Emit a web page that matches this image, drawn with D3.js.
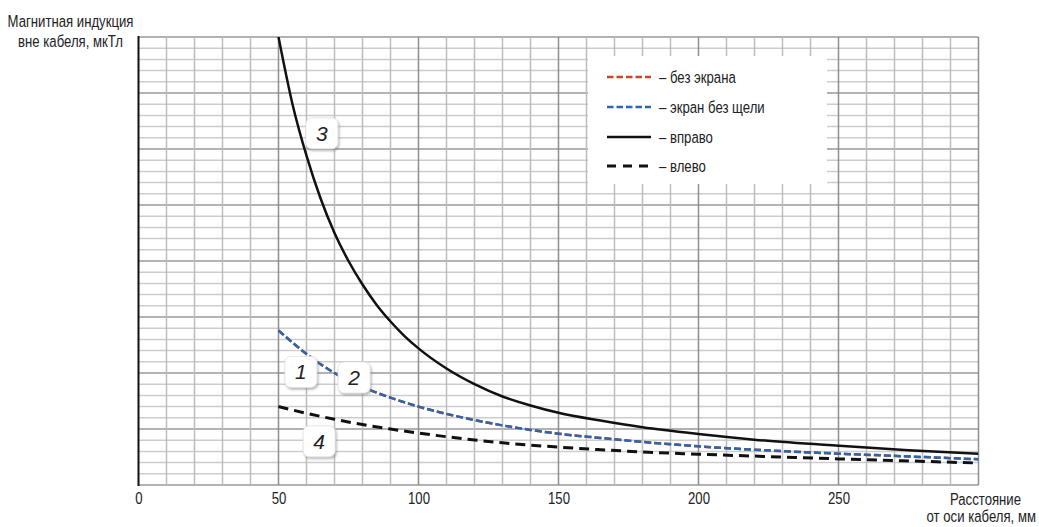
<!DOCTYPE html>
<html><head><meta charset="utf-8">
<script src="https://cdn.jsdelivr.net/npm/d3@7"></script>
<style>
body{margin:0;background:#fff}
svg{display:block}
text{font-family:"Liberation Sans",Arial,sans-serif;fill:#222}
</style>
</head><body>
<svg id="c" width="1039" height="527"></svg>
<script>
// ---- data ----
const xTickValues = [0, 50, 100, 150, 200, 250];
const xTickLabels = ["0", "50", "100", "150", "200", "250"];
const yTitle = ["Магнитная индукция", "вне кабеля, мкТл"];
const xTitle = ["Расстояние", "от оси кабеля, мм"];

// 1 – без экрана, 2 – экран без щели (curves coincide)
const distNoScreen = [50,60,70,80,90,100,110,120,130,140,150,165,180,200,220,250,275,300];
const valNoScreen  = [13.8,11.7,10.0,8.75,7.8,7.0,6.35,5.8,5.32,4.92,4.58,4.2,3.85,3.45,3.15,2.8,2.55,2.3];
const distScreen   = [50,60,70,80,90,100,110,120,130,140,150,165,180,200,220,250,275,300];
const valScreen    = [13.8,11.7,10.0,8.75,7.8,7.0,6.35,5.8,5.32,4.92,4.58,4.2,3.85,3.45,3.15,2.8,2.55,2.3];
// 3 – вправо
const distRight = [50,55,60,65,70,75,80,85,90,95,100,110,120,130,140,150,165,180,200,220,250,275,300];
const valRight  = [40,34.0,29.4,25.6,22.5,20.0,17.9,16.1,14.6,13.3,12.2,10.4,9.0,7.9,7.1,6.45,5.75,5.15,4.55,4.05,3.5,3.1,2.8];
// 4 – влево
const distLeft = [50,60,70,80,90,100,110,120,130,140,150,165,180,200,220,250,275,300];
const valLeft  = [7.0,6.4,5.87,5.4,5.0,4.64,4.31,4.02,3.77,3.56,3.38,3.15,2.95,2.75,2.58,2.33,2.15,1.96];

const legendLabels = ["– без экрана", "– экран без щели", "– вправо", "– влево"];
const curveLabels = ["1", "2", "3", "4"];
const curveLabelX = [58, 77, 65.5, 64.5];
const curveLabelY = [10.1, 9.6, 31.4, 3.9];

// ---- helpers ----
const K = 0.775;   // horizontal condensing to mimic a narrow typeface
function narrowText(parent, px, py, str, anchor) {
  return parent.append("text")
    .attr("transform", `translate(${px},${py}) scale(${K},1)`)
    .attr("text-anchor", anchor)
    .style("font-size", "17px")
    .text(str);
}

// ---- layout ----
const svg = d3.select("#c");
const x = d3.scaleLinear().domain([0, 300]).range([138.5, 978.5]);
const y = d3.scaleLinear().domain([0, 40]).range([485, 37]);

// grid
const grid = svg.append("g");
grid.selectAll("line.h").data(d3.range(0, 41)).join("line")
  .attr("x1", x(0)).attr("x2", x(300))
  .attr("y1", d => y(d)).attr("y2", d => y(d))
  .attr("stroke", d => d % 5 === 0 ? "#999" : "#cdcdcd")
  .attr("stroke-width", 1.5);
grid.selectAll("line.v").data(d3.range(10, 301, 10)).join("line")
  .attr("y1", y(0)).attr("y2", y(40))
  .attr("x1", d => x(d)).attr("x2", d => x(d))
  .attr("stroke", d => d % 50 === 0 ? "#8f8f8f" : "#bdbdbd")
  .attr("stroke-width", 1.5);

// left axis line
svg.append("line").attr("x1", x(0)).attr("x2", x(0)).attr("y1", y(40) - 1).attr("y2", y(0) + 1)
  .attr("stroke", "#111").attr("stroke-width", 2);

// x axis labels
const ax = svg.append("g").attr("transform", `translate(0,${y(0)})`)
  .call(d3.axisBottom(x).tickValues(xTickValues).tickFormat((d, i) => xTickLabels[i]).tickSize(0).tickPadding(7));
ax.select(".domain").remove();
ax.selectAll("text").style("font-size", "17px").attr("fill", "#222")
  .style("font-family", '"Liberation Sans",Arial,sans-serif')
  .attr("transform", `scale(${K},1)`);

narrowText(svg, x(300) + 7, 505, xTitle[0], "middle");
narrowText(svg, 1036, 522, xTitle[1], "end");
narrowText(svg, 70.5, 27, yTitle[0], "middle");
narrowText(svg, 70.5, 47, yTitle[1], "middle");

// legend box
svg.append("rect").attr("x", 588).attr("y", 56).attr("width", 239).attr("height", 128).attr("fill", "#fff");

// series
const line = d3.line().x(d => x(d[0])).y(d => y(d[1])).curve(d3.curveMonotoneX);
const series = [
  {d: d3.zip(distNoScreen, valNoScreen), color: "#c9452a", dash: "7,3", w: 2.5},
  {d: d3.zip(distScreen, valScreen), color: "#2c66ad", dash: "7,3", w: 2.5},
  {d: d3.zip(distRight, valRight), color: "#111", dash: null, w: 2.5},
  {d: d3.zip(distLeft, valLeft), color: "#111", dash: "10,6", w: 3}
];
const defs = svg.append("defs");
defs.append("clipPath").attr("id", "clip").append("rect")
  .attr("x", x(0)).attr("y", y(40)).attr("width", x(300) - x(0)).attr("height", y(0) - y(40));
const sg = svg.append("g").attr("clip-path", "url(#clip)");
series.forEach(s => {
  sg.append("path").attr("d", line(s.d)).attr("fill", "none")
    .attr("stroke", s.color).attr("stroke-width", s.w)
    .attr("stroke-dasharray", s.dash);
});

// legend entries
const lg = svg.append("g");
const legendY = [77, 107, 137, 166];
series.forEach((s, i) => {
  lg.append("line").attr("x1", 607).attr("x2", 651).attr("y1", legendY[i]).attr("y2", legendY[i])
    .attr("stroke", s.color).attr("stroke-width", s.w)
    .attr("stroke-dasharray", i < 2 ? "6.5,3" : (i === 3 ? "9,7" : null));
  narrowText(lg, 659, legendY[i] + 6, legendLabels[i], "start");
});

// curve number labels
const f = defs.append("filter").attr("id", "sh").attr("x", "-30%").attr("y", "-30%").attr("width", "160%").attr("height", "160%");
f.append("feDropShadow").attr("dx", 1.2).attr("dy", 1.8).attr("stdDeviation", 1.3)
  .attr("flood-color", "#777").attr("flood-opacity", 0.55);
curveLabels.forEach((t, i) => {
  const cx = x(curveLabelX[i]), cy = y(curveLabelY[i]);
  svg.append("rect").attr("x", cx - 16).attr("y", cy - 15.5).attr("width", 32).attr("height", 31)
    .attr("rx", 6).attr("fill", "#fff").attr("stroke", "#e2e2e2").attr("stroke-width", 0.8)
    .attr("filter", "url(#sh)");
  svg.append("text").attr("x", cx).attr("y", cy).attr("dy", "0.36em").attr("text-anchor", "middle")
    .style("font-size", "21px").style("font-style", "italic").text(t);
});
</script>
</body></html>
